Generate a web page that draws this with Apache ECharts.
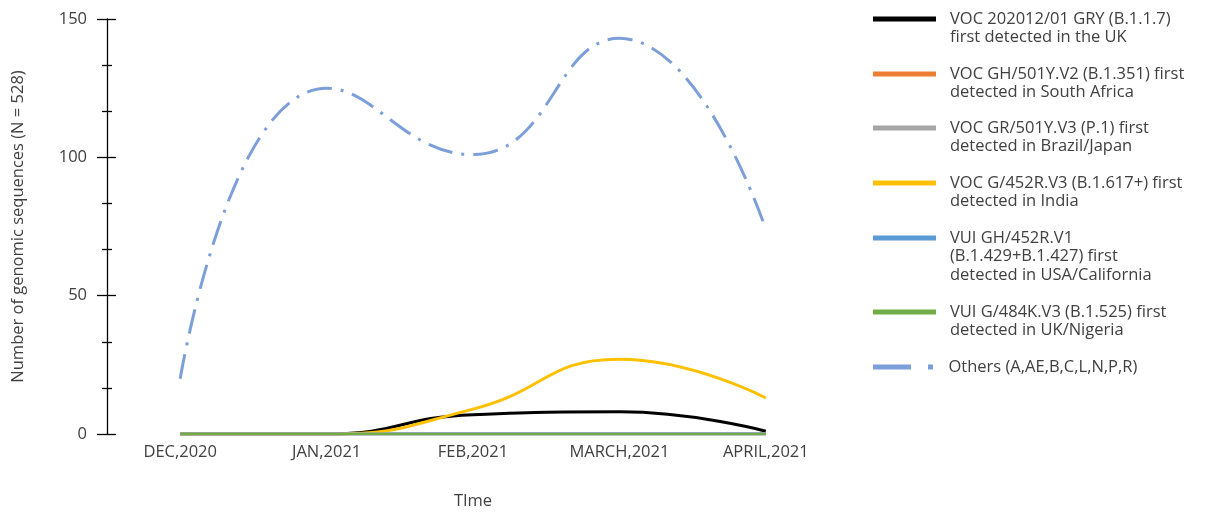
<!DOCTYPE html>
<html>
<head>
<meta charset="utf-8">
<script src="https://cdn.jsdelivr.net/npm/echarts@6/dist/echarts.min.js"></script>
<style>
  html, body { margin: 0; padding: 0; background: #fff; }
  #main { width: 1205px; height: 513px; }
</style>
</head>
<body>
<div id="main"></div>
<script>
// months on the x axis
var months = ['DEC,2020', 'JAN,2021', 'FEB,2021', 'MARCH,2021', 'APRIL,2021'];

// sequences per variant
var ukB117 = [0, 0, 7, 8, 1];
var saB1351 = [0, 0, 0, 0, 0];
var brP1 = [0, 0, 0, 0, 0];
var inB1617 = [0, 0, 9, 27, 13];
var usB1429 = [0, 0, 0, 0, 0];
var ngB1525 = [0, 0, 0, 0, 0];
var others = [20, 125, 101, 143, 74];

var seriesNames = [
  'VOC 202012/01 GRY (B.1.1.7) first detected in the UK',
  'VOC GH/501Y.V2 (B.1.351) first detected in South Africa',
  'VOC GR/501Y.V3 (P.1) first detected in Brazil/Japan',
  'VOC G/452R.V3 (B.1.617+) first detected in India',
  'VUI GH/452R.V1 (B.1.429+B.1.427) first detected in USA/California',
  'VUI G/484K.V3 (B.1.525) first detected in UK/Nigeria',
  'Others (A,AE,B,C,L,N,P,R)'
];
// how the legend breaks each name
var legendLabels = [
  'VOC 202012/01 GRY (B.1.1.7)\nfirst detected in the UK',
  'VOC GH/501Y.V2 (B.1.351) first\ndetected in South Africa',
  'VOC GR/501Y.V3 (P.1) first\ndetected in Brazil/Japan',
  'VOC G/452R.V3 (B.1.617+) first\ndetected in India',
  'VUI GH/452R.V1\n(B.1.429+B.1.427) first\ndetected in USA/California',
  'VUI G/484K.V3 (B.1.525) first\ndetected in UK/Nigeria',
  'Others (A,AE,B,C,L,N,P,R)'
];
var yTicks = [0, 50, 100, 150];

var colors = ['#000000', '#ED7D31', '#A5A5A5', '#FFC000', '#5B9BD5', '#70AD47', '#7C9FDA'];
var allData = [ukB117, saB1351, brP1, inB1617, usB1429, ngB1525, others];

var myChart = echarts.init(document.getElementById('main'));

var font = 'Open Sans';
var fs = 16.5;
var lineH = 18.5;
var iconCenters = [19, 74, 128, 183, 238, 312, 367];

// one legend per entry; leading blank lines put the icon on the first text line
var legends = seriesNames.map(function (name, i) {
  var lines = legendLabels[i].split('\n').length;
  var total = 2 * lines - 1;
  var lead = new Array(lines).join('\n');
  return {
    left: 873,
    top: iconCenters[i] - total * lineH / 2,
    padding: 0,
    itemWidth: 63,
    itemHeight: 5,
    itemGap: 0,
    icon: i === 6 ? 'path://M0,0h38v5h-38z M55,0h5v5h-5z' : 'rect',
    selectedMode: false,
    data: [name],
    formatter: function () { return lead + legendLabels[i]; },
    textStyle: {
      fontFamily: font,
      fontSize: fs,
      color: '#404040',
      lineHeight: lineH,
      padding: [0, 0, 0, 9]
    }
  };
});

var seriesList = seriesNames.map(function (name, i) {
  return {
    name: name,
    type: 'line',
    data: allData[i],
    smooth: 0.5,
    symbol: 'none',
    z: i === 5 ? 3 : 2,
    itemStyle: { color: colors[i] },
    lineStyle: {
      color: colors[i],
      width: i === 5 ? 2 : 3,
      type: i === 6 ? [25, 9, 3, 9] : 'solid'
    }
  };
});

var yBase = {
  type: 'value',
  min: 0,
  max: 150,
  interval: 50,
  position: 'left',
  splitLine: { show: false },
  minorTick: { show: true, splitNumber: 3, length: 5, lineStyle: { color: '#000', width: 1.3 } }
};

var option = {
  animation: false,
  color: colors,
  grid: { left: 107, right: 366, top: 19, bottom: 79, containLabel: false, outerBoundsMode: 'none' },
  legend: legends,
  xAxis: {
    type: 'category',
    data: months,
    boundaryGap: true,
    axisLine: { show: false },
    axisTick: { show: false },
    axisLabel: { fontFamily: font, fontSize: fs, color: '#404040', margin: 10 },
    name: 'TIme',
    nameLocation: 'middle',
    nameGap: 59,
    nameTextStyle: { fontFamily: font, fontSize: fs, color: '#404040' }
  },
  yAxis: [
    Object.assign({}, yBase, {
      axisLine: { show: true, lineStyle: { color: '#000', width: 1.3 } },
      axisTick: { show: true, length: 10, lineStyle: { color: '#000', width: 1.3 } },
      axisLabel: {
        fontFamily: font, fontSize: fs, color: '#404040', margin: 20,
        formatter: function (v) { return yTicks.indexOf(v) >= 0 ? String(v) : ''; }
      },
      name: 'Number of genomic sequences (N = 528)',
      nameLocation: 'middle',
      nameGap: 80,
      nameTextStyle: { fontFamily: font, fontSize: fs, color: '#404040' }
    }),
    // mirror axis: ticks drawn inwards so they cross the axis line
    Object.assign({}, yBase, {
      axisLine: { show: false },
      axisTick: { show: true, inside: true, length: 9, lineStyle: { color: '#000', width: 1.3 } },
      minorTick: { show: true, splitNumber: 3, length: 5, lineStyle: { color: '#000', width: 1.3 } },
      axisLabel: { show: false }
    })
  ],
  series: seriesList
};

myChart.setOption(option);
</script>
</body>
</html>
